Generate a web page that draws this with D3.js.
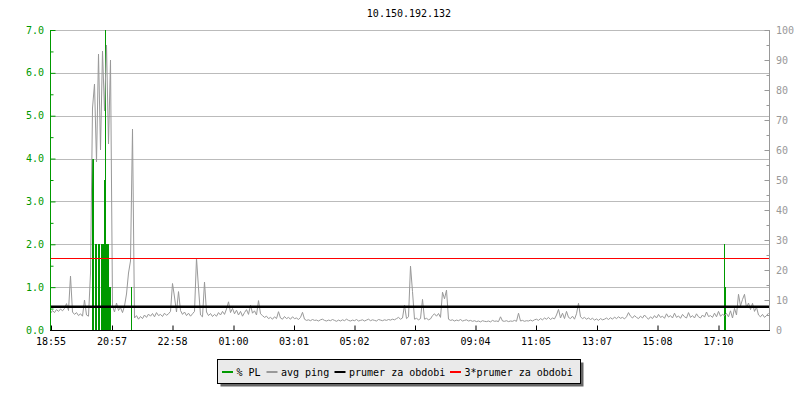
<!DOCTYPE html>
<html>
<head>
<meta charset="utf-8">
<script src="https://cdn.jsdelivr.net/npm/d3@7"></script>
<style>
  html, body { margin: 0; padding: 0; background: #ffffff; }
  svg { display: block; }
  text { font-family: "DejaVu Sans Mono", monospace; }
</style>
</head>
<body>
<svg id="chart" width="800" height="400"></svg>
<script>
// ---------------- data ----------------
const chartTitle = "10.150.192.132";
const startTime = "18:53";          // left edge of the plot
const sampleStepMin = 4;            // avg ping sample spacing (minutes)
const plStepMin = 2;                // packet loss sample width (minutes)

// avg ping [ms], one value every 4 minutes from the left edge (right axis)
const avgPing = [
  5.5, 6.5, 5.8, 6.8, 6.2, 7.0, 6.4, 7.2, 8.8, 6.5, 18, 6.0, 5.2, 5.8, 4.8, 5.4, 4.6, 10, 5.0, 4.6, 19, 74, 82, 56, 92, 60, 93, 73, 95, 62,
  90, 8, 6, 9, 6.5, 7.5, 5.8, 8, 12, 19, 23, 67, 4.0, 4.8, 3.6, 4.5, 3.8, 5.0, 4.2, 5.3, 4.6, 5.5, 4.4, 5.8, 4.8, 5.2, 4.5, 5.6, 4.9, 5.4,
  6.2, 15.5, 11, 6.0, 12.8, 6.5, 5.2, 6.0, 4.8, 5.6, 4.6, 5.4, 6.2, 24, 14, 5.0, 4.4, 16, 6.0, 4.8, 5.5, 4.5, 5.2, 4.6, 5.8, 5.0, 6.2, 5.2, 7.0, 9.4,
  5.8, 7.2, 5.4, 6.6, 5.0, 6.2, 4.6, 5.8, 6.8, 5.2, 8.3, 5.6, 6.4, 5.0, 9.8, 5.4, 4.8, 4.2, 4.6, 3.8, 4.2, 3.6, 4.4, 3.8, 6.1, 4.0, 3.6, 4.5, 3.8, 4.2,
  3.6, 4.4, 3.8, 4.0, 3.5, 4.2, 5.9, 3.6, 3.2, 3.4, 3.1, 3.5, 3.2, 3.3, 3.0, 3.4, 3.6, 3.2, 3.0, 3.3, 3.1, 3.5, 3.2, 2.9, 3.3, 3.0, 3.4, 3.1, 3.6, 3.2,
  3.0, 3.3, 3.1, 3.5, 3.0, 3.2, 3.4, 3.0, 3.3, 3.6, 3.1, 3.4, 3.2, 3.0, 3.5, 3.3, 3.1, 3.4, 3.2, 3.5, 3.3, 3.6, 3.4, 3.8, 4.2, 3.6, 4.0, 8.3, 3.8, 4.4,
  21.3, 12.8, 3.6, 3.9, 3.4, 3.8, 10.2, 3.6, 3.9, 3.4, 3.7, 4.8, 5.4, 4.6, 5.5, 4.2, 12.6, 10.4, 13.3, 3.6, 3.2, 3.4, 3.0, 3.3, 3.1, 3.5, 3.0, 3.2, 3.4, 3.0,
  3.2, 2.9, 3.1, 2.8, 3.0, 2.7, 3.1, 2.9, 2.8, 3.0, 2.7, 3.2, 2.9, 3.0, 2.8, 4.4, 3.0, 2.9, 3.1, 2.8, 3.0, 2.9, 3.2, 2.9, 5.6, 3.0, 3.2, 2.9, 3.1, 3.0,
  3.3, 3.0, 3.4, 3.6, 3.2, 3.8, 3.4, 4.0, 3.6, 4.2, 3.5, 4.0, 3.7, 5.0, 6.9, 4.0, 5.6, 3.8, 6.2, 4.2, 3.8, 4.6, 3.6, 5.4, 8.9, 4.4, 3.8, 4.2, 3.6, 4.0,
  3.5, 3.9, 3.3, 3.7, 3.2, 3.8, 3.4, 3.6, 4.0, 3.5, 4.1, 3.6, 4.3, 3.8, 4.4, 3.9, 4.2, 3.7, 4.4, 5.8, 4.6, 4.0, 4.8, 4.2, 3.8, 4.6, 4.0, 5.0, 4.2, 3.6,
  4.4, 3.8, 4.8, 4.0, 5.2, 4.2, 4.6, 3.9, 5.4, 4.3, 4.8, 4.0, 5.6, 4.2, 4.7, 3.9, 5.2, 4.4, 4.0, 5.8, 4.2, 4.8, 4.0, 5.4, 4.4, 4.0, 5.0, 4.3, 6.0, 4.5,
  4.8, 4.2, 5.6, 4.4, 6.2, 4.6, 5.2, 4.8, 5.5, 4.4, 6.4, 4.0, 7.2, 5.0, 11.9, 8.0, 10.2, 11.9, 7.4, 9.0, 6.8, 8.9, 6.2, 7.6, 5.0, 4.4, 5.2, 4.2, 4.8, 5.6
];

// packet loss [%], non-zero samples only (left axis); minutes from the left edge
const plMinute = [84, 86, 90, 92, 96, 98, 102, 104, 106, 108, 110, 112, 114, 116, 118, 120, 162, 1348, 1350];
const plValue  = [4.0, 4.0, 2.0, 2.0, 2.0, 2.0, 2.0, 2.0, 2.0, 3.5, 7.0, 2.0, 2.0, 2.0, 1.0, 1.0, 1.0, 2.0, 1.0];

const meanPing = 7.75;      // prumer za obdobi
const meanPing3 = 23.9;     // 3*prumer za obdobi

const xTickLabels = ["18:55", "20:57", "22:58", "01:00", "03:01", "05:02", "07:03", "09:04", "11:05", "13:07", "15:08", "17:10"];
const leftTicks = [0, 1, 2, 3, 4, 5, 6, 7];
const rightTicks = [0, 10, 20, 30, 40, 50, 60, 70, 80, 90, 100];

const legendLabels = ["% PL", "avg ping", "prumer za obdobi", "3*prumer za obdobi"];
const colors = { pl: "#009900", ping: "#999999", mean: "#000000", mean3: "#ff0000", grid: "#bbbbbb", rightAxis: "#999999" };

// ---------------- scales ----------------
const day0 = new Date(2020, 0, 1);
const parseHM = (s, next) => {
  const [h, m] = s.split(":").map(Number);
  return new Date(day0.getFullYear(), day0.getMonth(), day0.getDate() + (next ? 1 : 0), h, m);
};
const t0 = parseHM(startTime, false);
const addMin = (d, m) => new Date(d.getTime() + m * 60000);
const t1 = addMin(t0, 1440);

const M = { left: 50, right: 770, top: 30, bottom: 330 };
const x = d3.scaleTime().domain([t0, t1]).range([M.left, M.right]);
const yL = d3.scaleLinear().domain([0, 7]).range([M.bottom, M.top]);
const yR = d3.scaleLinear().domain([0, 100]).range([M.bottom, M.top]);

// tick times (labels converted to dates; after midnight -> next day)
let prevH = -1, nextDay = false;
const xTickDates = xTickLabels.map(s => {
  const h = +s.split(":")[0];
  if (h < prevH) nextDay = true;
  prevH = h;
  return parseHM(s, nextDay);
});

const svg = d3.select("#chart");

// ---------------- title ----------------
svg.append("text").attr("x", 409).attr("y", 17).attr("text-anchor", "middle")
  .attr("font-size", 10).attr("fill", "#000").text(chartTitle);

// ---------------- grid ----------------
const g = svg.append("g");
g.selectAll("line.grid").data(leftTicks.slice(1)).join("line")
  .attr("class", "grid")
  .attr("x1", M.left).attr("x2", M.right)
  .attr("y1", d => Math.round(yL(d)) + 0.5).attr("y2", d => Math.round(yL(d)) + 0.5)
  .attr("stroke", colors.grid).attr("stroke-width", 1);

// ---------------- packet loss (area bars) ----------------
const plData = plMinute.map((m, i) => ({ t: addMin(t0, m), v: plValue[i] }));
g.selectAll("rect.pl").data(plData).join("rect")
  .attr("class", "pl")
  .attr("x", d => x(d.t))
  .attr("width", d => x(addMin(d.t, plStepMin)) - x(d.t))
  .attr("y", d => yL(d.v))
  .attr("height", d => yL(0) - yL(d.v))
  .attr("fill", colors.pl)
  .attr("shape-rendering", "crispEdges");

// ---------------- avg ping line ----------------
const pingData = avgPing.map((v, i) => ({ t: addMin(t0, i * sampleStepMin), v }));
const line = d3.line().x(d => x(d.t) + 0.5).y(d => yR(d.v));
g.append("path").datum(pingData).attr("d", line)
  .attr("fill", "none").attr("stroke", colors.ping).attr("stroke-width", 1);

// ---------------- horizontal rules ----------------
g.append("line").attr("x1", M.left).attr("x2", M.right)
  .attr("y1", yR(meanPing)).attr("y2", yR(meanPing))
  .attr("stroke", colors.mean).attr("stroke-width", 2.6);
g.append("line").attr("x1", M.left).attr("x2", M.right)
  .attr("y1", Math.round(yR(meanPing3)) + 0.5).attr("y2", Math.round(yR(meanPing3)) + 0.5)
  .attr("stroke", colors.mean3).attr("stroke-width", 1);

// ---------------- left axis (green) ----------------
const leftAxis = d3.axisRight(yL).tickValues(d3.range(0, 7.01, 0.5)).tickSize(4).tickFormat("");
const la = svg.append("g").attr("transform", `translate(${M.left + 0.5},0)`).call(leftAxis);
la.select(".domain").attr("stroke", colors.pl).attr("d", `M0,${M.top}V${M.bottom}`);
la.selectAll(".tick line").attr("stroke", colors.pl)
  .attr("x2", d => Number.isInteger(d) ? 5 : 3);
svg.append("g").selectAll("text").data(leftTicks).join("text")
  .attr("x", 44).attr("y", d => yL(d)).attr("dy", "0.36em")
  .attr("text-anchor", "end").attr("font-size", 10).attr("fill", colors.pl)
  .text(d => d3.format(".1f")(d));

// ---------------- right axis (gray) ----------------
const rightAxis = d3.axisLeft(yR).tickValues(d3.range(0, 100.1, 5)).tickSize(4).tickFormat("");
const ra = svg.append("g").attr("transform", `translate(${M.right - 0.5},0)`).call(rightAxis);
ra.select(".domain").attr("stroke", colors.rightAxis).attr("d", `M0,${M.top}V${M.bottom}`);
ra.selectAll(".tick line").attr("stroke", colors.rightAxis)
  .attr("x2", d => d % 10 === 0 ? -5 : -3);
svg.append("g").selectAll("text").data(rightTicks).join("text")
  .attr("x", 776).attr("y", d => yR(d)).attr("dy", "0.36em")
  .attr("text-anchor", "start").attr("font-size", 10).attr("fill", colors.rightAxis)
  .text(d => d);

// ---------------- x axis ----------------
const xAxis = d3.axisTop(x).tickValues(xTickDates).tickSize(5).tickFormat("");
const xa = svg.append("g").attr("transform", `translate(0,${M.bottom + 0.5})`).call(xAxis);
xa.select(".domain").attr("stroke", "#000").attr("d", `M${M.left},0H${M.right}`);
xa.selectAll(".tick line").attr("stroke", "#000");
svg.append("g").selectAll("text").data(xTickDates).join("text")
  .attr("x", d => x(d)).attr("y", 345).attr("text-anchor", "middle")
  .attr("font-size", 10).attr("fill", "#000")
  .text((d, i) => xTickLabels[i]);

// ---------------- legend ----------------
const lg = svg.append("g");
const box = { x: 217.5, y: 359.5, w: 363, h: 24 };
lg.append("rect").attr("x", box.x + 3).attr("y", box.y + 3).attr("width", box.w).attr("height", box.h)
  .attr("fill", "#666666");
lg.append("rect").attr("x", box.x).attr("y", box.y).attr("width", box.w).attr("height", box.h)
  .attr("fill", "#eaeaea").attr("stroke", "#000").attr("stroke-width", 1);
const legendColors = [colors.pl, colors.ping, colors.mean, colors.mean3];
const itemX = [222, 266.5, 334.5, 450];
legendLabels.forEach((lab, i) => {
  lg.append("line").attr("x1", itemX[i]).attr("x2", itemX[i] + 11)
    .attr("y1", 372).attr("y2", 372).attr("stroke", legendColors[i]).attr("stroke-width", 2);
  lg.append("text").attr("x", itemX[i] + 14.5).attr("y", 375.5)
    .attr("font-size", 10).attr("fill", "#000").text(lab);
});
</script>
</body>
</html>
